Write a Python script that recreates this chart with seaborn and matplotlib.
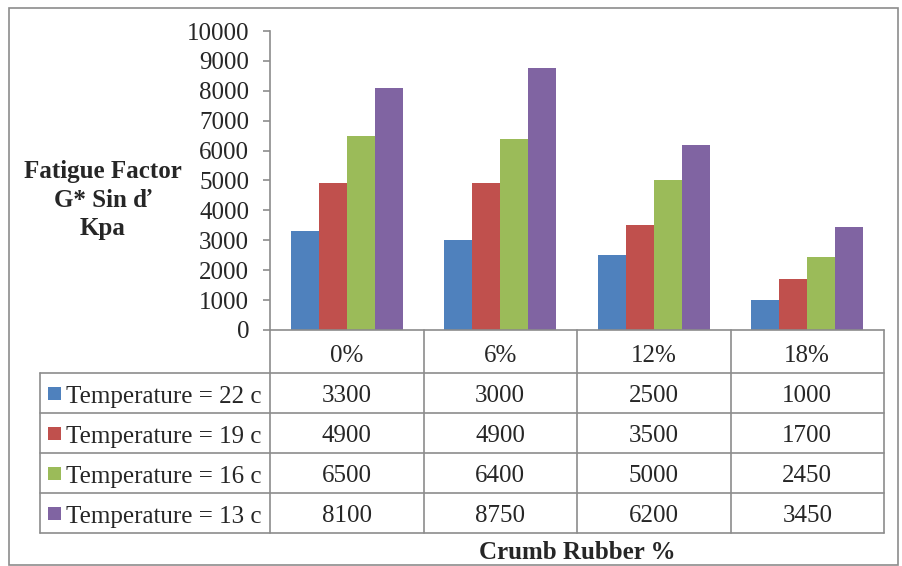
import matplotlib
matplotlib.use("Agg")
import matplotlib.pyplot as plt
import matplotlib.transforms as mtransforms
from matplotlib.patches import Rectangle
from matplotlib.lines import Line2D
import seaborn as sns
import pandas as pd

# Data
categories = ["0%", "6%", "12%", "18%"]
series_names = ["Temperature = 22 c", "Temperature = 19 c",
                "Temperature = 16 c", "Temperature = 13 c"]
temp_22 = [3300, 3000, 2500, 1000]
temp_19 = [4900, 4900, 3500, 1700]
temp_16 = [6500, 6400, 5000, 2450]
temp_13 = [8100, 8750, 6200, 3450]
series_values = [temp_22, temp_19, temp_16, temp_13]
colors = ["#4F81BD", "#C0504D", "#9BBB59", "#8064A2"]
y_ticks = list(range(0, 10001, 1000))

rows = []
for name, vals in zip(series_names, series_values):
    for cat, v in zip(categories, vals):
        rows.append({"Crumb Rubber %": cat, "value": v, "series": name})
df = pd.DataFrame(rows)

sns.set_style("white")
plt.rcParams["font.family"] = ["Liberation Serif", "DejaVu Serif"]

W, H = 902, 566
FS = 18
GRID = "#8c8c8c"


def fx(x):
    return x / W


def fy(y):
    return 1 - y / H


fig = plt.figure(figsize=(W / 100, H / 100), dpi=100)
fig.patch.set_facecolor("white")
ax = fig.add_axes([fx(270), fy(330), fx(884) - fx(270), fy(31) - fy(330)])

sns.barplot(data=df, x="Crumb Rubber %", y="value", hue="series",
            order=categories, hue_order=series_names, palette=colors,
            width=0.73, gap=0, saturation=1, linewidth=0,
            legend=False, ax=ax)

ax.set_xlim(-0.5, len(categories) - 0.5)
ax.set_ylim(0, 10000)
ax.set_yticks(y_ticks)
ax.set_yticklabels([str(t) for t in y_ticks])
ax.set_xticks([])
ax.set_xlabel("")
ax.set_ylabel("")
for s in ["top", "right", "bottom"]:
    ax.spines[s].set_visible(False)
ax.spines["left"].set_color(GRID)
ax.spines["left"].set_linewidth(1.2)
ax.tick_params(axis="y", direction="out", length=5, width=1.2, color=GRID,
               labelsize=FS, pad=10, left=True)
for lbl in ax.get_yticklabels():
    lbl.set_verticalalignment("center_baseline")

# Data table under the plot area
blend = mtransforms.blended_transform_factory(ax.transData, fig.transFigure)
x_left_data = -0.5
x_right_data = len(categories) - 0.5

row_tops = [373, 413, 453, 493]
row_bottom = 533

# horizontal lines
fig.add_artist(Line2D([x_left_data, x_right_data], [fy(330), fy(330)],
                      transform=blend, color=GRID, lw=1.2))
for y in row_tops + [row_bottom]:
    fig.add_artist(Line2D([fx(40), fx(884)], [fy(y), fy(y)],
                          transform=fig.transFigure, color=GRID, lw=1.2))
# vertical lines
fig.add_artist(Line2D([fx(40), fx(40)], [fy(373), fy(row_bottom)],
                      transform=fig.transFigure, color=GRID, lw=1.2))
for k in range(len(categories) + 1):
    xv = k - 0.5
    fig.add_artist(Line2D([xv, xv], [fy(330), fy(row_bottom)],
                          transform=blend, color=GRID, lw=1.2))

# header row
for i, cat in enumerate(categories):
    fig.text(i, fy(353), cat, transform=blend, ha="center",
             va="center_baseline", fontsize=FS)

# series rows
for r, (name, vals, col) in enumerate(zip(series_names, series_values, colors)):
    yc = row_tops[r] + 20
    fig.add_artist(Rectangle((fx(48), fy(yc + 6.5)), fx(13), 13 / H,
                             transform=fig.transFigure, facecolor=col,
                             edgecolor="none"))
    fig.text(fx(66), fy(yc + 1), name, ha="left", va="center_baseline",
             fontsize=FS)
    for i, v in enumerate(vals):
        fig.text(i, fy(yc + 1), str(v), transform=blend, ha="center",
                 va="center_baseline", fontsize=FS)

# axis titles
fig.text(fx(103), fy(200), "Fatigue Factor\nG* Sin ď\nKpa", ha="center",
         va="center", fontsize=FS, fontweight="bold", linespacing=1.3)
fig.text((x_left_data + x_right_data) / 2, fy(550), "Crumb Rubber %",
         transform=blend, ha="center", va="center_baseline", fontsize=FS,
         fontweight="bold")

# chart border
fig.add_artist(Rectangle((fx(9), fy(565)), fx(898) - fx(9), (565 - 8) / H,
                         transform=fig.transFigure, facecolor="none",
                         edgecolor=GRID, lw=1.2))

fig.savefig("out.png", dpi=100, facecolor="white")
